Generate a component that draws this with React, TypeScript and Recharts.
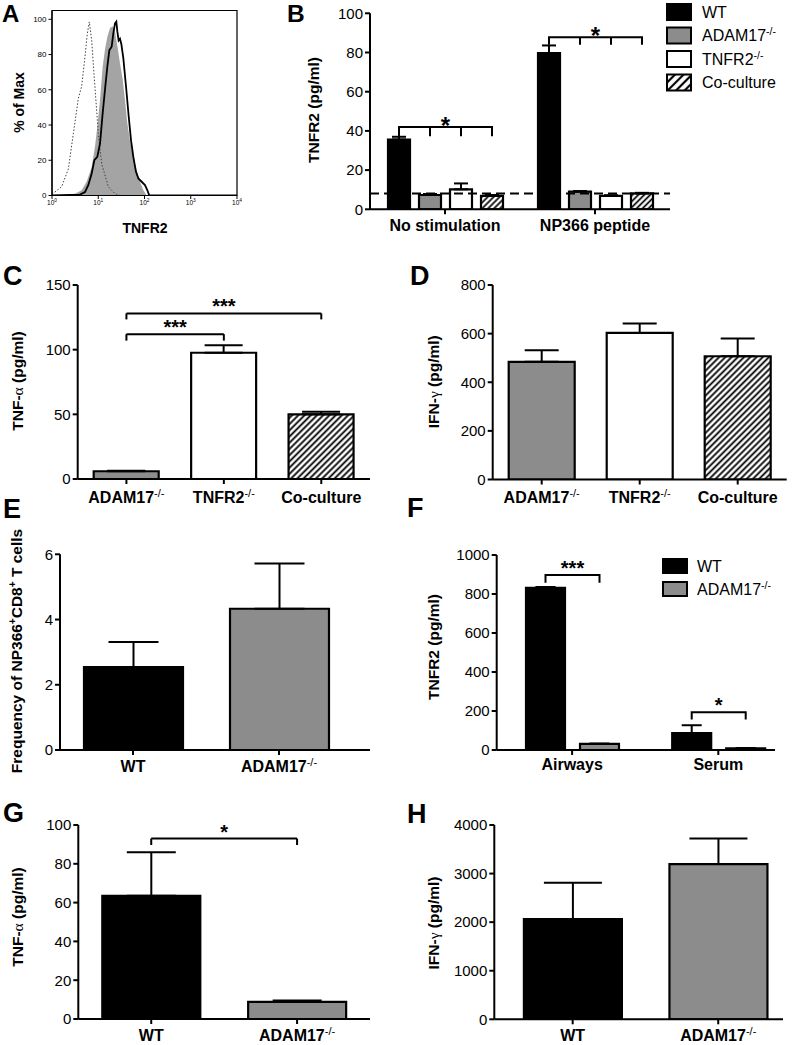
import React from 'react';
import {
  BarChart, Bar, XAxis, YAxis, ErrorBar, ReferenceLine, Cell,
  ComposedChart, Line, Area, Legend, LabelList, ReferenceArea,
} from 'recharts';

const FONT = '"Liberation Sans", Arial, Helvetica, sans-serif';
const SERIF = '"Liberation Serif", "DejaVu Serif", serif';
const BLACK = '#000000';
const GRAY = '#8c8c8c';
const AREA_GRAY = '#a4a4a4';

// ---------------- Panel A (histogram, log10 TNFR2 vs % of max) ----------------
const aDecades = [0, 1, 2, 3, 4];
const aMinorX = [0, 1, 2, 3].flatMap((d) => [2, 3, 4, 5, 6, 7, 8, 9].map((m) => d + Math.log10(m)));
const aYTicks = [0, 20, 40, 60, 80, 100];
const aMinorY = [5, 10, 15, 25, 30, 35, 45, 50, 55, 65, 70, 75, 85, 90, 95];
const aIsotypeLog = [0, 0.065, 0.209, 0.353, 0.461, 0.569, 0.641, 0.714, 0.764, 0.807, 0.858, 0.908, 1.002, 1.074, 1.218, 1.362, 1.47];
const aIsotypePct = [1, 2, 5, 15, 35, 55, 62, 79, 92, 98.5, 88, 69, 35, 18, 5, 1, 0];
const aGrayLog = [0, 0.497, 0.641, 0.75, 0.858, 0.93, 0.98, 1.038, 1.095, 1.146, 1.196, 1.254, 1.312, 1.362, 1.413, 1.47, 1.528, 1.578, 1.629, 1.686, 1.758, 1.831, 1.903, 1.975, 2.047, 4];
const aGrayPct = [0, 1, 3, 8, 16, 28, 39, 54, 73, 83, 90, 95, 96, 93, 85, 75, 66, 54, 41, 31, 22, 14, 8, 3, 0, 0];
const aBlackLog = [0, 0.605, 0.714, 0.786, 0.858, 0.915, 0.98, 1.038, 1.095, 1.153, 1.196, 1.24, 1.29, 1.326, 1.362, 1.391, 1.413, 1.441, 1.47, 1.499, 1.542, 1.6, 1.658, 1.708, 1.758, 1.816, 1.867, 1.939, 2.01, 2.061, 2.104, 4];
const aBlackPct = [0, 0.5, 2, 6, 12.5, 20, 22, 29.5, 46.5, 62, 73, 82.5, 84.5, 92, 97.7, 98.7, 93, 88, 89, 86, 78, 62, 45, 31.4, 22, 13.4, 9.7, 7.8, 5.9, 3, 0, 0];

// ---------------- Panel B ----------------
const bGroups = ['No stimulation', 'NP366 peptide'];
const bSeries = ['WT', 'ADAM17-/-', 'TNFR2-/-', 'Co-culture'];
const bWT = [35.6, 79.7];
const bWTUpper = [37.0, 83.6];
const bADAM = [7.3, 9.0];
const bADAMUpper = [7.8, 9.3];
const bTNFR2 = [10.2, 6.8];
const bTNFR2Upper = [13.2, 7.2];
const bCo = [6.8, 8.1];
const bCoUpper = [7.3, 8.4];
const bTicks = [0, 20, 40, 60, 80, 100];
const bDetectionLimit = 8;
const bBrackets = [
  { level: 42, drop: 37.8, label: '*' },
  { level: 87.8, drop: 84.5, label: '*' },
];

// ---------------- Panel C ----------------
const cCategories = ['ADAM17-/-', 'TNFR2-/-', 'Co-culture'];
const cValues = [6, 97.6, 50];
const cUpper = [6.4, 103.5, 52];
const cTicks = [0, 50, 100, 150];
const cBrackets = [
  { from: 'ADAM17-/-', to: 'TNFR2-/-', level: 112, drop: 107, label: '***' },
  { from: 'ADAM17-/-', to: 'Co-culture', level: 128, drop: 123.4, label: '***' },
];

// ---------------- Panel D ----------------
const dCategories = ['ADAM17-/-', 'TNFR2-/-', 'Co-culture'];
const dValues = [484, 603, 507];
const dUpper = [532, 642, 580];
const dTicks = [0, 200, 400, 600, 800];

// ---------------- Panel E ----------------
const eCategories = ['WT', 'ADAM17-/-'];
const eValues = [2.54, 4.33];
const eUpper = [3.31, 5.72];
const eTicks = [0, 2, 4, 6];

// ---------------- Panel F ----------------
const fCategories = ['Airways', 'Serum'];
const fSeries = ['WT', 'ADAM17-/-'];
const fWT = [832, 87];
const fWTUpper = [836, 127];
const fADAM = [31, 8];
const fADAMUpper = [33, 10];
const fTicks = [0, 200, 400, 600, 800, 1000];
const fBrackets = [
  { level: 897, drop: 863, label: '***' },
  { level: 193, drop: 162, label: '*' },
];

// ---------------- Panel G ----------------
const gCategories = ['WT', 'ADAM17-/-'];
const gValues = [63.5, 8.8];
const gUpper = [85.9, 9.6];
const gTicks = [0, 20, 40, 60, 80, 100];
const gBrackets = [{ from: 'WT', to: 'ADAM17-/-', level: 93, drop: 89.7, label: '*' }];

// ---------------- Panel H ----------------
const hCategories = ['WT', 'ADAM17-/-'];
const hValues = [2064, 3196];
const hUpper = [2811, 3724];
const hTicks = [0, 1000, 2000, 3000, 4000];

// ---------------- helpers ----------------
const AXIS_LINE = { stroke: BLACK, strokeWidth: 2 };
const TICK_LINE = { stroke: BLACK, strokeWidth: 2 };
const Y_TICK = { fill: BLACK, fontSize: 15, fontFamily: FONT };

function supLabel(s: string, supSize = 11, dy = -6) {
  if (s.endsWith('-/-')) {
    return (
      <>
        {s.slice(0, -3)}
        <tspan dy={dy} fontSize={supSize} fontWeight="normal">-/-</tspan>
      </>
    );
  }
  return s;
}

function Hatch({ id, size = 4.4, sw = 1.8 }: { id: string; size?: number; sw?: number }) {
  return (
    <pattern id={id} patternUnits="userSpaceOnUse" width={size} height={size} patternTransform="rotate(45)">
      <rect width={size} height={size} fill="#fff" />
      <line x1={size / 2} y1={0} x2={size / 2} y2={size} stroke={BLACK} strokeWidth={sw} />
    </pattern>
  );
}

const CatTick = (props: any) => {
  const { x, y, payload, off = 15 } = props;
  return (
    <text x={x} y={y + off} textAnchor="middle" fontFamily={FONT} fontWeight="bold" fontSize={16} fill={BLACK}>
      {supLabel(String(payload.value))}
    </text>
  );
};

function VTitle({ x, y, size = 15.5, children }: { x: number; y: number; size?: number; children: React.ReactNode }) {
  return (
    <text transform={`translate(${x},${y}) rotate(-90)`} textAnchor="middle" fontFamily={FONT} fontWeight="bold" fontSize={size} fill={BLACK}>
      {children}
    </text>
  );
}

function Letter({ x, y, size = 27, children }: { x: number; y: number; size?: number; children: React.ReactNode }) {
  return (
    <text x={x} y={y} fontFamily={FONT} fontWeight="bold" fontSize={size} fill={BLACK}>{children}</text>
  );
}

const tnfAlpha = (
  <>TNF-<tspan fontFamily={SERIF} fontWeight="normal">α</tspan> (pg/ml)</>
);
const ifnGamma = (
  <>IFN-<tspan fontFamily={SERIF} fontWeight="normal">γ</tspan> (pg/ml)</>
);

// bracket drawn from the first bar of a group across n bars
function makeGroupBracket(specs: any[], values: number[], n: number, gap: number, starSize: number, starOff: number) {
  return (props: any) => {
    const vb = props.viewBox ?? props;
    const x = Number(vb.x ?? props.x);
    const y = Number(vb.y ?? props.y);
    const w = Number(vb.width ?? props.width);
    const h = Number(vb.height ?? props.height);
    const idx = props.index;
    const spec = specs[idx];
    if (!spec || !isFinite(x) || !isFinite(h)) return null;
    const v = values[idx];
    const top = Math.min(y, y + h);
    const hh = Math.abs(h);
    const base = top + hh;
    const ppu = hh / v;
    const yL = base - spec.level * ppu;
    const yD = base - spec.drop * ppu;
    const pitch = w + gap;
    const c0 = x + w / 2;
    const c1 = c0 + (n - 1) * pitch;
    let d = `M${c0},${yL}H${c1}`;
    for (let k = 0; k < n; k++) d += `M${c0 + k * pitch},${yL}V${yD}`;
    return (
      <g>
        <path d={d} stroke={BLACK} strokeWidth={2} fill="none" strokeLinecap="square" />
        <text x={(c0 + c1) / 2} y={yL - starOff} textAnchor="middle" fontFamily={FONT} fontWeight="bold" fontSize={starSize} fill={BLACK}>
          {spec.label}
        </text>
      </g>
    );
  };
}

// ---------------- Panel A ----------------
const DecadeTick = (props: any) => {
  const { x, y, payload } = props;
  return (
    <text x={x} y={y + 5} textAnchor="middle" fontFamily={FONT} fontSize={6.5} fill={BLACK}>
      10<tspan dy={-3} fontSize={4.8}>{payload.value}</tspan>
    </text>
  );
};

function PanelA() {
  const iso = aIsotypeLog.map((x, i) => ({ x, y: aIsotypePct[i] }));
  const gray = aGrayLog.map((x, i) => ({ x, y: aGrayPct[i] }));
  const black = aBlackLog.map((x, i) => ({ x, y: aBlackPct[i] }));
  return (
    <div style={{ position: 'absolute', left: 0, top: 0 }}>
      <ComposedChart width={250} height={240} margin={{ top: 10.5, right: 13, left: 0, bottom: 0 }}>
        <XAxis xAxisId="minor" type="number" dataKey="x" domain={[0, 4]} ticks={aMinorX} interval={0} allowDataOverflow height={0}
          axisLine={false} tick={false} tickSize={2} tickLine={{ stroke: BLACK, strokeWidth: 0.8 }} />
        <XAxis type="number" dataKey="x" domain={[0, 4]} ticks={aDecades} interval={0} allowDataOverflow height={44.5}
          tickSize={3.5} tickMargin={1} axisLine={{ stroke: BLACK, strokeWidth: 1.2 }} tickLine={{ stroke: BLACK, strokeWidth: 1 }} tick={<DecadeTick />} />
        <YAxis yAxisId="minor" type="number" domain={[0, 105]} ticks={aMinorY} interval={0} allowDataOverflow width={0}
          axisLine={false} tick={false} tickSize={2} tickLine={{ stroke: BLACK, strokeWidth: 0.8 }} />
        <YAxis type="number" domain={[0, 105]} ticks={aYTicks} interval={0} allowDataOverflow width={52}
          tickSize={3.5} tickMargin={2} axisLine={{ stroke: BLACK, strokeWidth: 1.2 }} tickLine={{ stroke: BLACK, strokeWidth: 1 }}
          tick={{ fill: BLACK, fontSize: 8, fontFamily: FONT }} />
        <Area data={gray} dataKey="y" name="WT" type="linear" stroke="none" fill={AREA_GRAY} fillOpacity={1} isAnimationActive={false} dot={false} activeDot={false} />
        <Line data={iso} dataKey="y" name="Isotype" type="linear" stroke="#444" strokeWidth={1} strokeDasharray="1.5 1.8" isAnimationActive={false} dot={false} activeDot={false} />
        <Line data={black} dataKey="y" name="ADAM17-/-" type="linear" stroke={BLACK} strokeWidth={1.8} isAnimationActive={false} dot={false} activeDot={false} />
        <ReferenceArea x1={0} x2={4} y1={0} y2={105} fill="none" stroke={BLACK} strokeWidth={1.2} ifOverflow="visible" />
        <Letter x={2} y={22} size={24}>A</Letter>
        <VTitle x={24} y={102.5} size={14}>% of Max</VTitle>
        <text x={145} y={233} textAnchor="middle" fontFamily={FONT} fontWeight="bold" fontSize={14} fill={BLACK}>TNFR2</text>
      </ComposedChart>
    </div>
  );
}

// ---------------- Panel B ----------------
const bFills = [BLACK, GRAY, '#ffffff', 'url(#hatchLegB)'];

function LegendBox({ names, fills, rows, sq, textX, defs }: any) {
  return (
    <svg width={140} height={rows[rows.length - 1] + 14} style={{ display: 'block', overflow: 'visible' }}>
      <defs>{defs}</defs>
      {names.map((name: string, i: number) => (
        <g key={name}>
          <rect x={1} y={rows[i] - sq[1] / 2} width={sq[0]} height={sq[1]} fill={fills[i]} stroke={BLACK} strokeWidth={2} />
          <text x={textX} y={rows[i] + 5.7} fontFamily={FONT} fontSize={16} fill={BLACK}>
            {supLabel(name, 10.5, -6)}
          </text>
        </g>
      ))}
    </svg>
  );
}

function PanelB() {
  const data = bGroups.map((name, i) => ({
    name,
    wt: bWT[i], wtErr: [0, bWTUpper[i] - bWT[i]],
    adam: bADAM[i], adamErr: [0, bADAMUpper[i] - bADAM[i]],
    tnfr2: bTNFR2[i], tnfr2Err: [0, bTNFR2Upper[i] - bTNFR2[i]],
    co: bCo[i], coErr: [0, bCoUpper[i] - bCo[i]],
  }));
  const barSize = 22;
  const gap = 9;
  const bracket = makeGroupBracket(bBrackets, bWT, 4, gap, 24, -7);
  const keys = ['wt', 'adam', 'tnfr2', 'co'];
  const fills = [BLACK, GRAY, '#ffffff', 'url(#hatchB)'];
  return (
    <div style={{ position: 'absolute', left: 260, top: 0 }}>
      <BarChart width={534} height={240} data={data} margin={{ top: 13.3, right: 124, left: 0, bottom: 0 }} barSize={barSize} barGap={gap}>
        <defs><Hatch id="hatchB" size={4.2} sw={1.7} /></defs>
        <XAxis dataKey="name" type="category" height={30.7} interval={0} tickSize={5} tickMargin={2} axisLine={AXIS_LINE} tickLine={TICK_LINE} tick={<CatTick off={15} />} />
        <YAxis type="number" domain={[0, 100]} ticks={bTicks} interval={0} width={110} tickSize={5} tickMargin={2} axisLine={AXIS_LINE} tickLine={TICK_LINE} tick={Y_TICK} allowDataOverflow />
        {keys.map((k, i) => (
          <Bar key={k} dataKey={k} name={bSeries[i]} fill={fills[i]} stroke={BLACK} strokeWidth={2.2} isAnimationActive={false}>
            <ErrorBar dataKey={`${k}Err`} width={7} stroke={BLACK} strokeWidth={2} direction="y" isAnimationActive={false} />
            {k === 'wt' ? <LabelList dataKey="wt" content={bracket} /> : null}
          </Bar>
        ))}
        <ReferenceLine y={bDetectionLimit} stroke={BLACK} strokeWidth={2} strokeDasharray="9 5" />
        <Legend layout="vertical" align="center" verticalAlign="middle"
          wrapperStyle={{ left: 406, top: 3, width: 140, height: 100 }}
          content={() => (
            <LegendBox names={bSeries} fills={bFills} rows={[9, 32.5, 56, 79.5]} sq={[24, 16]} textX={36}
              defs={<Hatch id="hatchLegB" size={6} sw={2.2} />} />
          )} />
        <Letter x={27} y={22} size={24.5}>B</Letter>
        <VTitle x={59} y={110}>TNFR2 (pg/ml)</VTitle>
      </BarChart>
    </div>
  );
}

// ---------------- Panel F ----------------
function PanelF() {
  const data = fCategories.map((name, i) => ({
    name,
    wt: fWT[i], wtErr: [0, fWTUpper[i] - fWT[i]],
    adam: fADAM[i], adamErr: [0, fADAMUpper[i] - fADAM[i]],
  }));
  const barSize = 39;
  const gap = 15;
  const bracket = makeGroupBracket(fBrackets, fWT, 2, gap, 20, 0);
  const top = 480;
  return (
    <div style={{ position: 'absolute', left: 400, top }}>
      <BarChart width={394} height={300} data={data} margin={{ top: 555 - top, right: 19, left: 0, bottom: 0 }} barSize={barSize} barGap={gap}>
        <XAxis dataKey="name" type="category" height={30} padding={{ left: 2.3, right: -16.4 }} interval={0} tickSize={5} tickMargin={2} axisLine={AXIS_LINE} tickLine={TICK_LINE} tick={<CatTick off={13} />} />
        <YAxis type="number" domain={[0, 1000]} ticks={fTicks} interval={0} width={96.7} tickSize={5} tickMargin={2} axisLine={AXIS_LINE} tickLine={TICK_LINE} tick={Y_TICK} allowDataOverflow />
        <Bar dataKey="wt" name={fSeries[0]} fill={BLACK} stroke={BLACK} strokeWidth={2.2} isAnimationActive={false}>
          <ErrorBar dataKey="wtErr" width={10} stroke={BLACK} strokeWidth={2} direction="y" isAnimationActive={false} />
          <LabelList dataKey="wt" content={bracket} />
        </Bar>
        <Bar dataKey="adam" name={fSeries[1]} fill={GRAY} stroke={BLACK} strokeWidth={2.2} isAnimationActive={false}>
          <ErrorBar dataKey="adamErr" width={10} stroke={BLACK} strokeWidth={2} direction="y" isAnimationActive={false} />
        </Bar>
        <Legend layout="vertical" align="center" verticalAlign="middle"
          wrapperStyle={{ left: 262, top: 555 - top, width: 140, height: 50 }}
          content={() => (
            <LegendBox names={fSeries} fills={[BLACK, GRAY]} rows={[11, 34]} sq={[24, 14]} textX={35} defs={null} />
          )} />
        <Letter x={7} y={517 - top}>F</Letter>
        <VTitle x={38.5} y={647 - top}>TNFR2 (pg/ml)</VTitle>
      </BarChart>
    </div>
  );
}

// ---------------- Simple single-series panels ----------------
type Bracket = { from: string; to: string; level: number; drop: number; label: string };
type SimpleProps = {
  left: number; top: number; width: number; plotTop: number; plotBottom: number; bottom: number;
  marginRight: number; yWidth: number;
  categories: string[]; values: number[]; upper: number[]; fills: string[];
  domain: [number, number]; ticks: number[]; barSize: number; cap: number;
  padding?: { left: number; right: number }; labelOff: number;
  brackets?: Bracket[]; starSize?: number; starOffset?: number;
  letter: string; letterXY: [number, number]; title: React.ReactNode; titleXY: [number, number];
  hatchId?: string;
};

// all positions in page coordinates, converted to chart coordinates here
function SimpleBarPanel(p: SimpleProps) {
  const data = p.categories.map((name, i) => ({ name, value: p.values[i], err: [0, p.upper[i] - p.values[i]] }));
  const lineStyle = { stroke: BLACK, strokeWidth: 2 };
  const height = p.bottom - p.top;
  const xHeight = p.bottom - p.plotBottom;
  return (
    <div style={{ position: 'absolute', left: p.left, top: p.top }}>
      <BarChart width={p.width} height={height} data={data} margin={{ top: p.plotTop - p.top, right: p.marginRight, left: 0, bottom: 0 }} barSize={p.barSize}>
        {p.hatchId ? <defs><Hatch id={p.hatchId} /></defs> : null}
        <XAxis dataKey="name" type="category" height={xHeight} padding={p.padding ?? { left: 0, right: 0 }} interval={0} tickSize={5} tickMargin={2}
          axisLine={AXIS_LINE} tickLine={TICK_LINE} tick={<CatTick off={p.labelOff} />} />
        <YAxis type="number" domain={p.domain} ticks={p.ticks} interval={0} width={p.yWidth} tickSize={5} tickMargin={2}
          axisLine={AXIS_LINE} tickLine={TICK_LINE} tick={Y_TICK} allowDataOverflow />
        <Bar dataKey="value" stroke={BLACK} strokeWidth={2.2} isAnimationActive={false}>
          {data.map((d, i) => <Cell key={d.name} fill={p.fills[i]} />)}
          <ErrorBar dataKey="err" width={p.cap} stroke={BLACK} strokeWidth={2} direction="y" isAnimationActive={false} />
        </Bar>
        {(p.brackets ?? []).flatMap((b, i) => [
          <ReferenceLine key={`h${i}`} segment={[{ x: b.from, y: b.level }, { x: b.to, y: b.level }]} {...lineStyle} ifOverflow="visible"
            label={{ value: b.label, position: 'top', offset: p.starOffset ?? 0, fill: BLACK, fontSize: p.starSize ?? 20, fontFamily: FONT, fontWeight: 'bold' }} />,
          <ReferenceLine key={`a${i}`} segment={[{ x: b.from, y: b.level }, { x: b.from, y: b.drop }]} {...lineStyle} ifOverflow="visible" />,
          <ReferenceLine key={`b${i}`} segment={[{ x: b.to, y: b.level }, { x: b.to, y: b.drop }]} {...lineStyle} ifOverflow="visible" />,
        ])}
        <Letter x={p.letterXY[0] - p.left} y={p.letterXY[1] - p.top}>{p.letter}</Letter>
        <VTitle x={p.titleXY[0] - p.left} y={p.titleXY[1] - p.top}>{p.title}</VTitle>
      </BarChart>
    </div>
  );
}

export default function App() {
  return (
    <div style={{ position: 'absolute', left: 0, top: 0, width: 794, height: 1045, background: '#ffffff', overflow: 'hidden' }}>
      <PanelA />
      <PanelB />
      <SimpleBarPanel
        left={0} top={250} width={380} plotTop={285} plotBottom={479} bottom={510} marginRight={10} yWidth={77.7}
        categories={cCategories} values={cValues} upper={cUpper} fills={[GRAY, '#ffffff', 'url(#hatchC)']} hatchId="hatchC"
        domain={[0, 150]} ticks={cTicks} barSize={65} cap={19} labelOff={17}
        brackets={cBrackets} starSize={20} starOffset={0}
        letter="C" letterXY={[3, 285]} title={tnfAlpha} titleXY={[23, 381]} />
      <SimpleBarPanel
        left={400} top={250} width={394} plotTop={285} plotBottom={479.5} bottom={510} marginRight={7.3} yWidth={92.7}
        categories={dCategories} values={dValues} upper={dUpper} fills={[GRAY, '#ffffff', 'url(#hatchD)']} hatchId="hatchD"
        domain={[0, 800]} ticks={dTicks} barSize={66} cap={17} labelOff={16}
        letter="D" letterXY={[410, 285]} title={ifnGamma} titleXY={[438.5, 381.7]} />
      <SimpleBarPanel
        left={0} top={480} width={390} plotTop={554.3} plotBottom={750} bottom={780} marginRight={20} yWidth={60}
        categories={eCategories} values={eValues} upper={eUpper} fills={[BLACK, GRAY]}
        domain={[0, 6]} ticks={eTicks} barSize={99} cap={25} labelOff={15} padding={{ left: 0, right: 18 }}
        letter="E" letterXY={[3, 518]}
        title={<>Frequency of NP366<tspan dy={-6} fontSize={10}>+</tspan><tspan dy={6}>CD8</tspan><tspan dy={-6} fontSize={10}>+</tspan><tspan dy={6}> T cells</tspan></>}
        titleXY={[22, 651]} />
      <PanelF />
      <SimpleBarPanel
        left={0} top={785} width={390} plotTop={825} plotBottom={1019} bottom={1045} marginRight={20} yWidth={78.3}
        categories={gCategories} values={gValues} upper={gUpper} fills={[BLACK, GRAY]}
        domain={[0, 100]} ticks={gTicks} barSize={98} cap={24.5} labelOff={15}
        brackets={gBrackets} starSize={20} starOffset={0}
        letter="G" letterXY={[3, 822]} title={tnfAlpha} titleXY={[22.5, 917]} />
      <SimpleBarPanel
        left={400} top={785} width={394} plotTop={825} plotBottom={1019.3} bottom={1045} marginRight={11} yWidth={94.3}
        categories={hCategories} values={hValues} upper={hUpper} fills={[BLACK, GRAY]}
        domain={[0, 4000]} ticks={hTicks} barSize={98} cap={29} labelOff={15} padding={{ left: 5.6, right: -8 }}
        letter="H" letterXY={[407, 823]} title={ifnGamma} titleXY={[438.5, 923]} />
    </div>
  );
}
